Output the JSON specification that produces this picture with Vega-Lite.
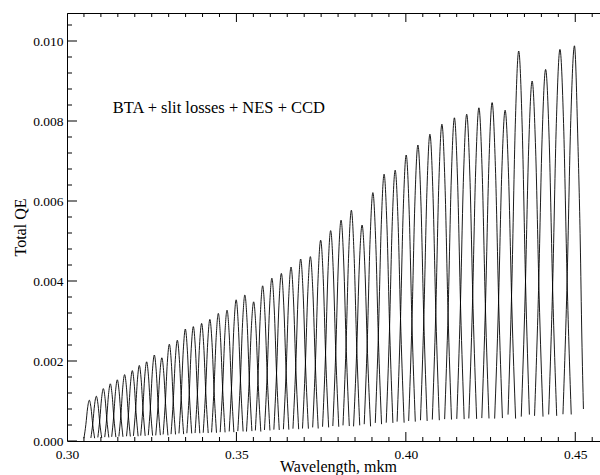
{
"$schema": "https://vega.github.io/schema/vega-lite/v6.json",
"width": 533, "height": 428,
"autosize": "none",
"padding": {"left": 67, "top": 13, "right": 0, "bottom": 34},
"background": "white",
"config": {
  "view": {"stroke": "black", "strokeWidth": 1},
  "axis": {"domain": false, "grid": false, "ticks": false, "labelFont": "Liberation Serif", "titleFont": "Liberation Serif", "labelFontSize": 13.5, "titleFontSize": 16, "titleFontWeight": "normal", "labelColor": "black", "titleColor": "black"}
},
"resolve": {"axis": {"x": "independent", "y": "independent"}},
"layer": [
{
"data": {"values": [
{"o":1,"w":0.30500,"q":0.000069},{"o":1,"w":0.30557,"q":0.000413},{"o":1,"w":0.30608,"q":0.000827},{"o":1,"w":0.30658,"q":0.00102},{"o":1,"w":0.30709,"q":0.000827},{"o":1,"w":0.30759,"q":0.000413},{"o":1,"w":0.30816,"q":0.000069},
{"o":2,"w":0.30705,"q":0.000076},{"o":2,"w":0.30763,"q":0.000454},{"o":2,"w":0.30814,"q":0.000908},{"o":2,"w":0.30865,"q":0.00112},{"o":2,"w":0.30916,"q":0.000908},{"o":2,"w":0.30967,"q":0.000454},{"o":2,"w":0.31025,"q":0.000076},
{"o":3,"w":0.30910,"q":0.000089},{"o":3,"w":0.30968,"q":0.000531},{"o":3,"w":0.31020,"q":0.001062},{"o":3,"w":0.31072,"q":0.00131},{"o":3,"w":0.31124,"q":0.001062},{"o":3,"w":0.31176,"q":0.000531},{"o":3,"w":0.31234,"q":0.000089},
{"o":4,"w":0.31114,"q":0.000097},{"o":4,"w":0.31173,"q":0.000580},{"o":4,"w":0.31225,"q":0.001159},{"o":4,"w":0.31278,"q":0.00143},{"o":4,"w":0.31331,"q":0.001159},{"o":4,"w":0.31383,"q":0.000580},{"o":4,"w":0.31442,"q":0.000097},
{"o":5,"w":0.31319,"q":0.000104},{"o":5,"w":0.31378,"q":0.000620},{"o":5,"w":0.31432,"q":0.001240},{"o":5,"w":0.31485,"q":0.00153},{"o":5,"w":0.31538,"q":0.001240},{"o":5,"w":0.31592,"q":0.000620},{"o":5,"w":0.31651,"q":0.000104},
{"o":6,"w":0.31531,"q":0.000112},{"o":6,"w":0.31592,"q":0.000673},{"o":6,"w":0.31646,"q":0.001346},{"o":6,"w":0.31700,"q":0.00166},{"o":6,"w":0.31754,"q":0.001346},{"o":6,"w":0.31808,"q":0.000673},{"o":6,"w":0.31869,"q":0.000112},
{"o":7,"w":0.31757,"q":0.000119},{"o":7,"w":0.31818,"q":0.000713},{"o":7,"w":0.31873,"q":0.001427},{"o":7,"w":0.31928,"q":0.00176},{"o":7,"w":0.31983,"q":0.001427},{"o":7,"w":0.32038,"q":0.000713},{"o":7,"w":0.32099,"q":0.000119},
{"o":8,"w":0.31961,"q":0.000128},{"o":8,"w":0.32023,"q":0.000766},{"o":8,"w":0.32079,"q":0.001532},{"o":8,"w":0.32134,"q":0.00189},{"o":8,"w":0.32189,"q":0.001532},{"o":8,"w":0.32245,"q":0.000766},{"o":8,"w":0.32307,"q":0.000128},
{"o":9,"w":0.32175,"q":0.000134},{"o":9,"w":0.32238,"q":0.000802},{"o":9,"w":0.32294,"q":0.001605},{"o":9,"w":0.32350,"q":0.00198},{"o":9,"w":0.32406,"q":0.001605},{"o":9,"w":0.32463,"q":0.000802},{"o":9,"w":0.32526,"q":0.000134},
{"o":10,"w":0.32399,"q":0.000146},{"o":10,"w":0.32463,"q":0.000871},{"o":10,"w":0.32520,"q":0.001743},{"o":10,"w":0.32577,"q":0.00215},{"o":10,"w":0.32634,"q":0.001743},{"o":10,"w":0.32691,"q":0.000871},{"o":10,"w":0.32755,"q":0.000146},
{"o":11,"w":0.32619,"q":0.000141},{"o":11,"w":0.32683,"q":0.000843},{"o":11,"w":0.32741,"q":0.001686},{"o":11,"w":0.32799,"q":0.00208},{"o":11,"w":0.32857,"q":0.001686},{"o":11,"w":0.32915,"q":0.000843},{"o":11,"w":0.32979,"q":0.000141},
{"o":12,"w":0.32837,"q":0.000164},{"o":12,"w":0.32903,"q":0.000981},{"o":12,"w":0.32961,"q":0.001962},{"o":12,"w":0.33020,"q":0.00242},{"o":12,"w":0.33079,"q":0.001962},{"o":12,"w":0.33137,"q":0.000981},{"o":12,"w":0.33203,"q":0.000164},
{"o":13,"w":0.33071,"q":0.000171},{"o":13,"w":0.33137,"q":0.001021},{"o":13,"w":0.33197,"q":0.002043},{"o":13,"w":0.33256,"q":0.00252},{"o":13,"w":0.33316,"q":0.002043},{"o":13,"w":0.33375,"q":0.001021},{"o":13,"w":0.33442,"q":0.000171},
{"o":14,"w":0.33304,"q":0.000190},{"o":14,"w":0.33371,"q":0.001135},{"o":14,"w":0.33432,"q":0.002270},{"o":14,"w":0.33492,"q":0.00280},{"o":14,"w":0.33552,"q":0.002270},{"o":14,"w":0.33613,"q":0.001135},{"o":14,"w":0.33680,"q":0.000190},
{"o":15,"w":0.33537,"q":0.000194},{"o":15,"w":0.33606,"q":0.001159},{"o":15,"w":0.33667,"q":0.002318},{"o":15,"w":0.33728,"q":0.00286},{"o":15,"w":0.33789,"q":0.002318},{"o":15,"w":0.33850,"q":0.001159},{"o":15,"w":0.33919,"q":0.000194},
{"o":16,"w":0.33780,"q":0.000199},{"o":16,"w":0.33849,"q":0.001192},{"o":16,"w":0.33911,"q":0.002383},{"o":16,"w":0.33973,"q":0.00294},{"o":16,"w":0.34035,"q":0.002383},{"o":16,"w":0.34097,"q":0.001192},{"o":16,"w":0.34167,"q":0.000199},
{"o":17,"w":0.34020,"q":0.000206},{"o":17,"w":0.34090,"q":0.001232},{"o":17,"w":0.34153,"q":0.002464},{"o":17,"w":0.34216,"q":0.00304},{"o":17,"w":0.34279,"q":0.002464},{"o":17,"w":0.34342,"q":0.001232},{"o":17,"w":0.34412,"q":0.000206},
{"o":18,"w":0.34267,"q":0.000216},{"o":18,"w":0.34338,"q":0.001293},{"o":18,"w":0.34402,"q":0.002586},{"o":18,"w":0.34466,"q":0.00319},{"o":18,"w":0.34530,"q":0.002586},{"o":18,"w":0.34594,"q":0.001293},{"o":18,"w":0.34665,"q":0.000216},
{"o":19,"w":0.34521,"q":0.000221},{"o":19,"w":0.34593,"q":0.001325},{"o":19,"w":0.34658,"q":0.002651},{"o":19,"w":0.34723,"q":0.00327},{"o":19,"w":0.34788,"q":0.002651},{"o":19,"w":0.34853,"q":0.001325},{"o":19,"w":0.34925,"q":0.000221},
{"o":20,"w":0.34787,"q":0.000239},{"o":20,"w":0.34860,"q":0.001431},{"o":20,"w":0.34926,"q":0.002861},{"o":20,"w":0.34992,"q":0.00353},{"o":20,"w":0.35058,"q":0.002861},{"o":20,"w":0.35124,"q":0.001431},{"o":20,"w":0.35197,"q":0.000239},
{"o":21,"w":0.35041,"q":0.000247},{"o":21,"w":0.35115,"q":0.001479},{"o":21,"w":0.35182,"q":0.002959},{"o":21,"w":0.35249,"q":0.00365},{"o":21,"w":0.35316,"q":0.002959},{"o":21,"w":0.35383,"q":0.001479},{"o":21,"w":0.35457,"q":0.000247},
{"o":22,"w":0.35297,"q":0.000236},{"o":22,"w":0.35372,"q":0.001410},{"o":22,"w":0.35440,"q":0.002821},{"o":22,"w":0.35508,"q":0.00348},{"o":22,"w":0.35576,"q":0.002821},{"o":22,"w":0.35644,"q":0.001410},{"o":22,"w":0.35720,"q":0.000236},
{"o":23,"w":0.35559,"q":0.000263},{"o":23,"w":0.35636,"q":0.001573},{"o":23,"w":0.35705,"q":0.003145},{"o":23,"w":0.35774,"q":0.00388},{"o":23,"w":0.35843,"q":0.003145},{"o":23,"w":0.35912,"q":0.001573},{"o":23,"w":0.35989,"q":0.000263},
{"o":24,"w":0.35828,"q":0.000276},{"o":24,"w":0.35906,"q":0.001650},{"o":24,"w":0.35976,"q":0.003299},{"o":24,"w":0.36046,"q":0.00407},{"o":24,"w":0.36116,"q":0.003299},{"o":24,"w":0.36186,"q":0.001650},{"o":24,"w":0.36264,"q":0.000276},
{"o":25,"w":0.36105,"q":0.000284},{"o":25,"w":0.36184,"q":0.001698},{"o":25,"w":0.36255,"q":0.003396},{"o":25,"w":0.36326,"q":0.00419},{"o":25,"w":0.36397,"q":0.003396},{"o":25,"w":0.36468,"q":0.001698},{"o":25,"w":0.36547,"q":0.000284},
{"o":26,"w":0.36387,"q":0.000294},{"o":26,"w":0.36468,"q":0.001763},{"o":26,"w":0.36540,"q":0.003526},{"o":26,"w":0.36612,"q":0.00435},{"o":26,"w":0.36684,"q":0.003526},{"o":26,"w":0.36756,"q":0.001763},{"o":26,"w":0.36837,"q":0.000294},
{"o":27,"w":0.36668,"q":0.000308},{"o":27,"w":0.36750,"q":0.001844},{"o":27,"w":0.36823,"q":0.003688},{"o":27,"w":0.36896,"q":0.00455},{"o":27,"w":0.36969,"q":0.003688},{"o":27,"w":0.37042,"q":0.001844},{"o":27,"w":0.37124,"q":0.000308},
{"o":28,"w":0.36950,"q":0.000312},{"o":28,"w":0.37033,"q":0.001868},{"o":28,"w":0.37108,"q":0.003737},{"o":28,"w":0.37182,"q":0.00461},{"o":28,"w":0.37256,"q":0.003737},{"o":28,"w":0.37331,"q":0.001868},{"o":28,"w":0.37414,"q":0.000312},
{"o":29,"w":0.37250,"q":0.000340},{"o":29,"w":0.37335,"q":0.002035},{"o":29,"w":0.37410,"q":0.004069},{"o":29,"w":0.37486,"q":0.00502},{"o":29,"w":0.37562,"q":0.004069},{"o":29,"w":0.37637,"q":0.002035},{"o":29,"w":0.37722,"q":0.000340},
{"o":30,"w":0.37542,"q":0.000356},{"o":30,"w":0.37628,"q":0.002132},{"o":30,"w":0.37704,"q":0.004264},{"o":30,"w":0.37781,"q":0.00526},{"o":30,"w":0.37858,"q":0.004264},{"o":30,"w":0.37935,"q":0.002132},{"o":30,"w":0.38020,"q":0.000356},
{"o":31,"w":0.37845,"q":0.000374},{"o":31,"w":0.37932,"q":0.002237},{"o":31,"w":0.38010,"q":0.004475},{"o":31,"w":0.38088,"q":0.00552},{"o":31,"w":0.38166,"q":0.004475},{"o":31,"w":0.38244,"q":0.002237},{"o":31,"w":0.38331,"q":0.000374},
{"o":32,"w":0.38145,"q":0.000391},{"o":32,"w":0.38234,"q":0.002339},{"o":32,"w":0.38313,"q":0.004677},{"o":32,"w":0.38392,"q":0.00577},{"o":32,"w":0.38471,"q":0.004677},{"o":32,"w":0.38551,"q":0.002339},{"o":32,"w":0.38639,"q":0.000391},
{"o":33,"w":0.38457,"q":0.000366},{"o":33,"w":0.38547,"q":0.002189},{"o":33,"w":0.38627,"q":0.004377},{"o":33,"w":0.38708,"q":0.00540},{"o":33,"w":0.38789,"q":0.004377},{"o":33,"w":0.38869,"q":0.002189},{"o":33,"w":0.38959,"q":0.000366},
{"o":34,"w":0.38772,"q":0.000420},{"o":34,"w":0.38863,"q":0.002517},{"o":34,"w":0.38945,"q":0.005034},{"o":34,"w":0.39027,"q":0.00621},{"o":34,"w":0.39109,"q":0.005034},{"o":34,"w":0.39191,"q":0.002517},{"o":34,"w":0.39283,"q":0.000420},
{"o":35,"w":0.39098,"q":0.000452},{"o":35,"w":0.39191,"q":0.002703},{"o":35,"w":0.39275,"q":0.005407},{"o":35,"w":0.39358,"q":0.00667},{"o":35,"w":0.39441,"q":0.005407},{"o":35,"w":0.39525,"q":0.002703},{"o":35,"w":0.39618,"q":0.000452},
{"o":36,"w":0.39421,"q":0.000458},{"o":36,"w":0.39516,"q":0.002744},{"o":36,"w":0.39600,"q":0.005488},{"o":36,"w":0.39685,"q":0.00677},{"o":36,"w":0.39770,"q":0.005488},{"o":36,"w":0.39854,"q":0.002744},{"o":36,"w":0.39949,"q":0.000458},
{"o":37,"w":0.39742,"q":0.000484},{"o":37,"w":0.39838,"q":0.002898},{"o":37,"w":0.39924,"q":0.005796},{"o":37,"w":0.40010,"q":0.00715},{"o":37,"w":0.40096,"q":0.005796},{"o":37,"w":0.40182,"q":0.002898},{"o":37,"w":0.40279,"q":0.000484},
{"o":38,"w":0.40083,"q":0.000501},{"o":38,"w":0.40181,"q":0.002999},{"o":38,"w":0.40268,"q":0.005998},{"o":38,"w":0.40356,"q":0.00740},{"o":38,"w":0.40444,"q":0.005998},{"o":38,"w":0.40531,"q":0.002999},{"o":38,"w":0.40629,"q":0.000501},
{"o":39,"w":0.40432,"q":0.000519},{"o":39,"w":0.40532,"q":0.003109},{"o":39,"w":0.40621,"q":0.006217},{"o":39,"w":0.40710,"q":0.00767},{"o":39,"w":0.40799,"q":0.006217},{"o":39,"w":0.40888,"q":0.003109},{"o":39,"w":0.40988,"q":0.000519},
{"o":40,"w":0.40781,"q":0.000536},{"o":40,"w":0.40883,"q":0.003210},{"o":40,"w":0.40973,"q":0.006420},{"o":40,"w":0.41064,"q":0.00792},{"o":40,"w":0.41155,"q":0.006420},{"o":40,"w":0.41245,"q":0.003210},{"o":40,"w":0.41347,"q":0.000536},
{"o":41,"w":0.41145,"q":0.000547},{"o":41,"w":0.41249,"q":0.003275},{"o":41,"w":0.41341,"q":0.006550},{"o":41,"w":0.41433,"q":0.00808},{"o":41,"w":0.41525,"q":0.006550},{"o":41,"w":0.41618,"q":0.003275},{"o":41,"w":0.41721,"q":0.000547},
{"o":42,"w":0.41503,"q":0.000553},{"o":42,"w":0.41608,"q":0.003311},{"o":42,"w":0.41702,"q":0.006623},{"o":42,"w":0.41796,"q":0.00817},{"o":42,"w":0.41890,"q":0.006623},{"o":42,"w":0.41984,"q":0.003311},{"o":42,"w":0.42089,"q":0.000553},
{"o":43,"w":0.41858,"q":0.000564},{"o":43,"w":0.41965,"q":0.003376},{"o":43,"w":0.42060,"q":0.006752},{"o":43,"w":0.42156,"q":0.00833},{"o":43,"w":0.42252,"q":0.006752},{"o":43,"w":0.42347,"q":0.003376},{"o":43,"w":0.42454,"q":0.000564},
{"o":44,"w":0.42242,"q":0.000573},{"o":44,"w":0.42351,"q":0.003429},{"o":44,"w":0.42449,"q":0.006858},{"o":44,"w":0.42546,"q":0.00846},{"o":44,"w":0.42643,"q":0.006858},{"o":44,"w":0.42741,"q":0.003429},{"o":44,"w":0.42850,"q":0.000573},
{"o":45,"w":0.42621,"q":0.000560},{"o":45,"w":0.42732,"q":0.003352},{"o":45,"w":0.42831,"q":0.006704},{"o":45,"w":0.42930,"q":0.00827},{"o":45,"w":0.43029,"q":0.006704},{"o":45,"w":0.43128,"q":0.003352},{"o":45,"w":0.43239,"q":0.000560},
{"o":46,"w":0.43016,"q":0.000660},{"o":46,"w":0.43129,"q":0.003952},{"o":46,"w":0.43230,"q":0.007903},{"o":46,"w":0.43331,"q":0.00975},{"o":46,"w":0.43432,"q":0.007903},{"o":46,"w":0.43533,"q":0.003952},{"o":46,"w":0.43646,"q":0.000660},
{"o":47,"w":0.43406,"q":0.000609},{"o":47,"w":0.43521,"q":0.003648},{"o":47,"w":0.43624,"q":0.007295},{"o":47,"w":0.43727,"q":0.00900},{"o":47,"w":0.43830,"q":0.007295},{"o":47,"w":0.43933,"q":0.003648},{"o":47,"w":0.44048,"q":0.000609},
{"o":48,"w":0.43798,"q":0.000629},{"o":48,"w":0.43916,"q":0.003765},{"o":48,"w":0.44020,"q":0.007530},{"o":48,"w":0.44125,"q":0.00929},{"o":48,"w":0.44230,"q":0.007530},{"o":48,"w":0.44334,"q":0.003765},{"o":48,"w":0.44452,"q":0.000629},
{"o":49,"w":0.44215,"q":0.000663},{"o":49,"w":0.44335,"q":0.003968},{"o":49,"w":0.44441,"q":0.007936},{"o":49,"w":0.44548,"q":0.00979},{"o":49,"w":0.44655,"q":0.007936},{"o":49,"w":0.44761,"q":0.003968},{"o":49,"w":0.44881,"q":0.000663},
{"o":50,"w":0.44637,"q":0.000669},{"o":50,"w":0.44759,"q":0.004004},{"o":50,"w":0.44867,"q":0.008009},{"o":50,"w":0.44976,"q":0.00988},{"o":50,"w":0.45077,"q":0.0075},{"o":50,"w":0.45147,"q":0.0050},{"o":50,"w":0.45194,"q":0.0026},{"o":50,"w":0.45241,"q":0.0008}
]},
"mark": {"type": "line", "interpolate": "monotone", "stroke": "black", "strokeWidth": 0.9},
"encoding": {
  "x": {"field": "w", "type": "quantitative", "scale": {"domain": [0.30, 0.4573], "nice": false, "zero": false},
    "axis": {"orient": "bottom", "title": "Wavelength, mkm", "titleX": 271, "titleY": 30, "titleBaseline": "alphabetic", "titleAlign": "center",
      "values": [0.3, 0.35, 0.4, 0.45], "format": ".2f",
      "labelFlush": false, "labelOverlap": false, "labelPadding": 6, "labelBaseline": "top"}},
  "y": {"field": "q", "type": "quantitative", "scale": {"domain": [0, 0.0107], "nice": false, "zero": false},
    "axis": {"orient": "left", "title": "Total QE", "titleX": -42, "titleY": 214, "titleBaseline": "alphabetic", "titleAlign": "center", "titleAngle": 270,
      "values": [0, 0.002, 0.004, 0.006, 0.008, 0.01], "format": ".3f",
      "labelFlush": false, "labelOverlap": false, "labelPadding": 4}},
  "detail": {"field": "o", "type": "nominal"}
}
},
{
"data": {"values": [{"x": 0.3135, "y": 0.00819, "t": "BTA + slit losses + NES + CCD"}]},
"mark": {"type": "text", "align": "left", "baseline": "alphabetic", "font": "Liberation Serif", "fontSize": 16.5, "color": "black"},
"encoding": {
  "x": {"field": "x", "type": "quantitative", "scale": {"domain": [0.30, 0.4573], "nice": false, "zero": false}, "axis": null},
  "y": {"field": "y", "type": "quantitative", "scale": {"domain": [0, 0.0107], "nice": false, "zero": false}, "axis": null},
  "text": {"field": "t", "type": "nominal"}
}
},
{
"data": {"values": [{"v": 0.30}, {"v": 0.35}, {"v": 0.40}, {"v": 0.45}]},
"mark": {"type": "tick", "orient": "vertical", "size": 18, "thickness": 1, "color": "black", "opacity": 1, "clip": true},
"encoding": {
  "x": {"field": "v", "type": "quantitative", "scale": {"domain": [0.30, 0.4573], "nice": false, "zero": false}, "axis": null},
  "y": {"datum": 0, "type": "quantitative", "scale": {"domain": [0, 0.0107], "nice": false, "zero": false}, "axis": null}
}
},
{
"data": {"values": [{"v": 0.30}, {"v": 0.35}, {"v": 0.40}, {"v": 0.45}]},
"mark": {"type": "tick", "orient": "vertical", "size": 18, "thickness": 1, "color": "black", "opacity": 1, "clip": true},
"encoding": {
  "x": {"field": "v", "type": "quantitative", "scale": {"domain": [0.30, 0.4573], "nice": false, "zero": false}, "axis": null},
  "y": {"datum": 0.0107, "type": "quantitative", "scale": {"domain": [0, 0.0107], "nice": false, "zero": false}, "axis": null}
}
},
{
"data": {"values": [{"v":0.305},{"v":0.31},{"v":0.315},{"v":0.32},{"v":0.325},{"v":0.33},{"v":0.335},{"v":0.34},{"v":0.345},{"v":0.355},{"v":0.36},{"v":0.365},{"v":0.37},{"v":0.375},{"v":0.38},{"v":0.385},{"v":0.39},{"v":0.395},{"v":0.405},{"v":0.41},{"v":0.415},{"v":0.42},{"v":0.425},{"v":0.43},{"v":0.435},{"v":0.44},{"v":0.445},{"v":0.455}]},
"mark": {"type": "tick", "orient": "vertical", "size": 8, "thickness": 1, "color": "black", "opacity": 1, "clip": true},
"encoding": {
  "x": {"field": "v", "type": "quantitative", "scale": {"domain": [0.30, 0.4573], "nice": false, "zero": false}, "axis": null},
  "y": {"datum": 0, "type": "quantitative", "scale": {"domain": [0, 0.0107], "nice": false, "zero": false}, "axis": null}
}
},
{
"data": {"values": [{"v":0.305},{"v":0.31},{"v":0.315},{"v":0.32},{"v":0.325},{"v":0.33},{"v":0.335},{"v":0.34},{"v":0.345},{"v":0.355},{"v":0.36},{"v":0.365},{"v":0.37},{"v":0.375},{"v":0.38},{"v":0.385},{"v":0.39},{"v":0.395},{"v":0.405},{"v":0.41},{"v":0.415},{"v":0.42},{"v":0.425},{"v":0.43},{"v":0.435},{"v":0.44},{"v":0.445},{"v":0.455}]},
"mark": {"type": "tick", "orient": "vertical", "size": 8, "thickness": 1, "color": "black", "opacity": 1, "clip": true},
"encoding": {
  "x": {"field": "v", "type": "quantitative", "scale": {"domain": [0.30, 0.4573], "nice": false, "zero": false}, "axis": null},
  "y": {"datum": 0.0107, "type": "quantitative", "scale": {"domain": [0, 0.0107], "nice": false, "zero": false}, "axis": null}
}
},
{
"data": {"values": [{"v": 0}, {"v": 0.002}, {"v": 0.004}, {"v": 0.006}, {"v": 0.008}, {"v": 0.01}]},
"mark": {"type": "tick", "orient": "horizontal", "size": 20, "thickness": 1, "color": "black", "opacity": 1, "clip": true},
"encoding": {
  "y": {"field": "v", "type": "quantitative", "scale": {"domain": [0, 0.0107], "nice": false, "zero": false}, "axis": null},
  "x": {"datum": 0.30, "type": "quantitative", "scale": {"domain": [0.30, 0.4573], "nice": false, "zero": false}, "axis": null}
}
},
{
"data": {"values": [{"v":0.0004},{"v":0.0008},{"v":0.0012},{"v":0.0016},{"v":0.0024},{"v":0.0028},{"v":0.0032},{"v":0.0036},{"v":0.0044},{"v":0.0048},{"v":0.0052},{"v":0.0056},{"v":0.0064},{"v":0.0068},{"v":0.0072},{"v":0.0076},{"v":0.0084},{"v":0.0088},{"v":0.0092},{"v":0.0096},{"v":0.0104}]},
"mark": {"type": "tick", "orient": "horizontal", "size": 10, "thickness": 1, "color": "black", "opacity": 1, "clip": true},
"encoding": {
  "y": {"field": "v", "type": "quantitative", "scale": {"domain": [0, 0.0107], "nice": false, "zero": false}, "axis": null},
  "x": {"datum": 0.30, "type": "quantitative", "scale": {"domain": [0.30, 0.4573], "nice": false, "zero": false}, "axis": null}
}
}
]
}
